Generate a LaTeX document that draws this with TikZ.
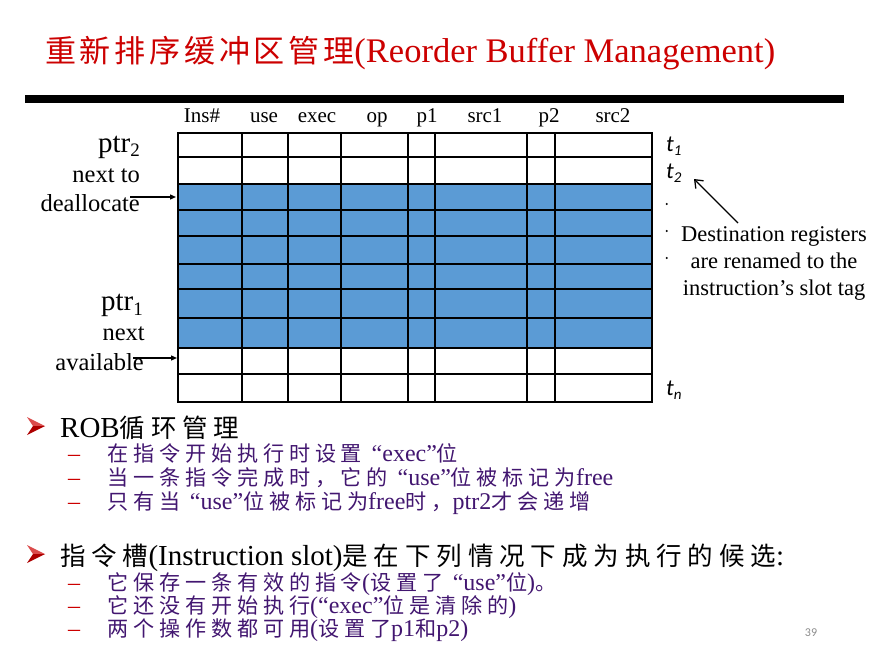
\documentclass[tikz,border=0pt]{standalone}
\usepackage{fontspec}
\setmainfont{Liberation Serif}
\newfontfamily\cjk[Scale=0.88, LetterSpace=23]{Noto Sans CJK SC}
\newfontfamily\cjktitle[Scale=0.9, LetterSpace=12]{Noto Sans CJK SC}
\newfontfamily\calib{Carlito}
\usepackage{tikz}
\usetikzlibrary{positioning, arrows.meta, calc}

\definecolor{titlered}{RGB}{204,0,0}
\definecolor{robblue}{RGB}{91,155,213}
\definecolor{itempurple}{RGB}{66,22,112}
\definecolor{pagegray}{RGB}{140,140,140}

\newcommand{\zh}[1]{{\cjk #1}}
\newcommand{\slott}[1]{{\calib\itshape t\raisebox{-4pt}{\fontsize{15}{15}\selectfont #1}}}
\newcommand{\ptrsub}[1]{ptr\raisebox{-5pt}{\fontsize{19}{19}\selectfont #1}}

\begin{document}
\begin{tikzpicture}[x=1pt, y=-1pt,
    grid/.style={line width=2.6pt},
    hdr/.style={font=\fontsize{21}{21}\selectfont, inner sep=0, anchor=base},
    lbl/.style={font=\fontsize{24.5}{24.5}\selectfont, inner sep=0, anchor=base east},
    bullet/.style={font=\fontsize{29}{29}\selectfont, inner sep=0, anchor=base west},
    item/.style={font=\fontsize{24}{24}\selectfont, text=itempurple, inner sep=0, anchor=base west},
    itemdash/.style={font=\fontsize{24}{24}\selectfont, text=titlered, inner sep=0, anchor=base west},
    ptrarrow/.style={-{Triangle[length=6pt,width=5pt]}, line width=1.3pt},
    tagarrow/.style={-{Straight Barb[length=7pt,width=11pt]}, line width=1.3pt},
    side/.style={font=\fontsize{22.5}{22.5}\selectfont, inner sep=0, anchor=base}]

  \useasboundingbox (0,0) rectangle (871,661);

  % Title
  \node[anchor=base west, inner sep=0, text=titlered, font=\fontsize{34.5}{34.5}\selectfont]
    (title) at (45,63) {{\cjktitle 重新排序缓冲区管理}(Reorder Buffer Management)};
  \fill (25,95) rectangle (844,103);

  % Column heads
  \foreach \x/\t [count=\i] in {202/Ins\#, 264/use, 317/exec, 377/op, 427/p1, 485/src1, 549/p2, 613/src2}
    \node[hdr] (head\i) at (\x,122) {\t};

  % Buffer
  \fill[robblue] (178,184) rectangle (652,348);
  \foreach \y in {157,184,210,236,264,289,318,348,374}
    \draw[grid] (178,\y) -- (652,\y);
  \foreach \x in {242,288,341,408,435,527,555}
    \draw[grid] (\x,133) -- (\x,402);
  \draw[grid] (178,133) rectangle (652,402);

  % Pointers
  \node[lbl, font=\fontsize{29}{29}\selectfont] (ptr2) at (140,152) {\ptrsub{2}};
  \node[lbl] (nextto) at (140,182) {next to};
  \node[lbl] (dealloc) at (140,211) {deallocate};
  \node[lbl, font=\fontsize{29}{29}\selectfont] (ptr1) at (143,310) {\ptrsub{1}};
  \node[lbl] (nextav) at (145,340) {next};
  \node[lbl] (avail) at (144,370) {available};
  \coordinate (deallocfrom) at (130,197);
  \coordinate (deallocto) at (176,197);
  \coordinate (availfrom) at (133,358);
  \coordinate (availto) at (177,358);
  \draw[ptrarrow] (deallocfrom) -- (deallocto);
  \draw[ptrarrow] (availfrom) -- (availto);

  % Slot tags
  \node[anchor=base west, inner sep=0, font=\fontsize{23}{23}\selectfont] (t1) at (666,151) {\slott{1}};
  \node[anchor=base west, inner sep=0, font=\fontsize{23}{23}\selectfont] (t2) at (666,178) {\slott{2}};
  \node[anchor=base west, inner sep=0, font=\fontsize{23}{23}\selectfont] (tn) at (666,395) {\slott{n}};
  \foreach \y in {204,231,258}
    \fill (666.7,\y) circle (1.2);
  \node[side] (dest1) at (774,241.7) {Destination registers};
  \node[side] (dest2) at (774,268.4) {are renamed to the};
  \node[side] (dest3) at (774,295) {instruction’s slot tag};
  \coordinate (tagfrom) at (738,223);
  \coordinate (tagto) at (694,179);
  \draw[tagarrow] (tagfrom) -- (tagto);

  % Bullets
  \foreach \y in {426,554} {
    \fill[titlered!70] (27,\y-9) -- (45,\y) -- (33,\y) -- cycle;
    \fill[titlered!85!black] (27,\y+9) -- (45,\y) -- (33,\y) -- cycle;
  }
  \node[bullet] (rob) at (60,437) {ROB\zh{循环管理}};
  \node[bullet] (slot) at (60,565) {\zh{指令槽}(Instruction slot)\zh{是在下列情况下成为执行的候选}:};

  \foreach \y in {461,485,509,590,613,636}
    \node[itemdash] (dash\y) at (68,\y) {--};
  \node[item] (item1) at (107,461) {\zh{在指令开始执行时设置}\hspace{0.4em}“exec”\zh{位}};
  \node[item] (item2) at (107,485) {\zh{当一条指令完成时，它的}\hspace{0.4em}“use”\zh{位被标记为}free};
  \node[item] (item3) at (107,509) {\zh{只有当}\hspace{0.4em}“use”\zh{位被标记为}free\zh{时，}ptr2\zh{才会递增}};
  \node[item] (item4) at (107,590) {\zh{它保存一条有效的指令}(\zh{设置了}\hspace{0.4em}“use”\zh{位})\zh{。}};
  \node[item] (item5) at (107,613) {\zh{它还没有开始执行}(“exec”\zh{位是清除的})};
  \node[item] (item6) at (107,636) {\zh{两个操作数都可用}(\zh{设置了}p1\zh{和}p2)};

  \node[font={\calib\fontsize{12}{12}\selectfont}, text=pagegray] (pagenum) at (811,633) {39};
\end{tikzpicture}
\end{document}
